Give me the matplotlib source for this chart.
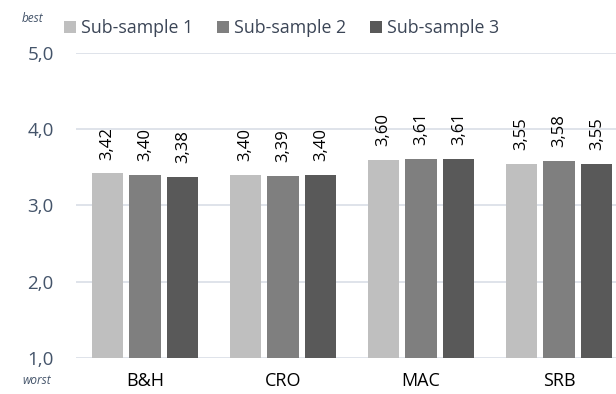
import numpy as np
import matplotlib.pyplot as plt

countries = ['B&H', 'CRO', 'MAC', 'SRB']
series_names = ['Sub-sample 1', 'Sub-sample 2', 'Sub-sample 3']
sub1 = [3.42, 3.40, 3.60, 3.55]
sub2 = [3.40, 3.39, 3.61, 3.58]
sub3 = [3.38, 3.40, 3.61, 3.55]
colors = ['#BFBFBF', '#7F7F7F', '#595959']
ytick_vals = [1, 2, 3, 4, 5]

plt.rcParams['font.family'] = ['Open Sans', 'DejaVu Sans']

fig = plt.figure(figsize=(6.16, 3.94), dpi=100)
ax = fig.add_axes([76 / 616, 1 - 358 / 394, 552 / 616, 305 / 394])

x = np.arange(len(countries))
w = 0.225
step = 0.275
for i, (vals, name) in enumerate(zip([sub1, sub2, sub3], series_names)):
    bars = ax.bar(x + (i - 1) * step, np.array(vals) - 1, w, bottom=1,
                  color=colors[i], label=name, zorder=2)
    for b, v in zip(bars, vals):
        ax.annotate(('%.2f' % v).replace('.', ','),
                    (b.get_x() + b.get_width() / 2, v),
                    xytext=(0, 10), textcoords='offset points',
                    rotation=90, ha='center', va='bottom', fontsize=12,
                    color='#000000')

ax.set_xlim(-0.5, 3.5)
ax.set_ylim(1, 5)
ax.set_yticks(ytick_vals)
ax.set_yticklabels(['%d,0' % v for v in ytick_vals], color='#44546A', fontsize=13.5)
ax.set_xticks(x)
ax.set_xticklabels(countries, fontsize=13)
ax.tick_params(axis='y', length=0, pad=16)
ax.tick_params(axis='x', length=0, pad=10)
ax.grid(axis='y', color='#D9DEE6', linewidth=1.2, zorder=0)
for s in ax.spines.values():
    s.set_visible(False)

fig.text(22 / 616, 1 - 19 / 394, 'best', style='italic', fontsize=8.5,
         color='#44546A', va='center')
fig.text(22 / 616, 1 - 381 / 394, 'worst', style='italic', fontsize=8.5,
         color='#44546A', va='center')

leg = fig.legend(loc='center left', bbox_to_anchor=(64 / 616, 1 - 28 / 394), ncol=3,
                 frameon=False, fontsize=12.8, handlelength=0.65, handleheight=0.65,
                 handletextpad=0.3, columnspacing=1.35, borderaxespad=0, borderpad=0)
for t in leg.get_texts():
    t.set_color('#3B4556')

fig.savefig('out.png', dpi=100)
